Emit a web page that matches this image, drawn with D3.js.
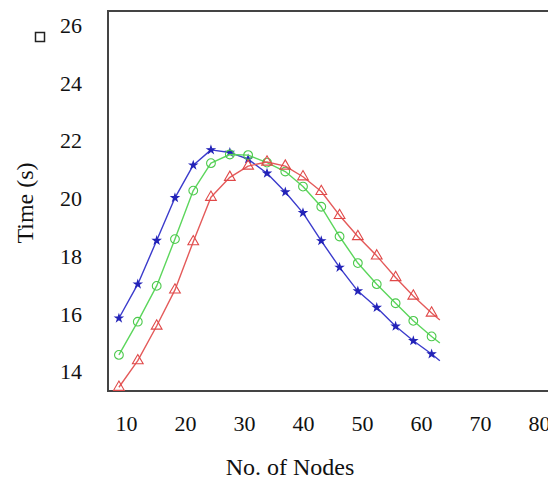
<!DOCTYPE html>
<html>
<head>
<meta charset="utf-8">
<script src="https://cdn.jsdelivr.net/npm/d3@7"></script>
<style>
  body { margin: 0; background: #fff; }
  svg { display: block; }
  .tick text { font-family: "Liberation Serif", "Times New Roman", serif; font-size: 22px; fill: #111; }
  .title { font-family: "Liberation Serif", "Times New Roman", serif; font-size: 24px; fill: #111; }
</style>
</head>
<body>
<div id="chart"></div>
<script>
// number of nodes (x) for each marker, last entry is where the line ends
var nodes = [8.8, 12.0, 15.2, 18.3, 21.4, 24.4, 27.6, 30.7, 33.9, 37.0, 40.0, 43.1, 46.2, 49.3, 52.5, 55.7, 58.7, 61.8, 63.2];

var blueTimes  = [15.86, 17.04, 18.55, 20.03, 21.16, 21.69, 21.60, 21.37, 20.88, 20.23, 19.51, 18.54, 17.62, 16.80, 16.23, 15.58, 15.08, 14.62, 14.39];
var greenTimes = [14.59, 15.74, 16.98, 18.60, 20.28, 21.23, 21.53, 21.51, 21.25, 20.94, 20.42, 19.72, 18.69, 17.77, 17.04, 16.38, 15.77, 15.23, 15.00];
var redTimes   = [13.47, 14.39, 15.59, 16.84, 18.51, 20.05, 20.74, 21.13, 21.27, 21.13, 20.76, 20.25, 19.42, 18.69, 18.02, 17.27, 16.63, 16.04, 15.80];

var xTicks = [10, 20, 30, 40, 50, 60, 70, 80];
var yTicks = [14, 16, 18, 20, 22, 24, 26];

var width = 548, height = 480;
var margin = {top: 11, right: 0, bottom: 89, left: 108};

var svg = d3.select("#chart").append("svg")
  .attr("width", width)
  .attr("height", height);

var x = d3.scaleLinear()
  .domain([6.95, 81.53])
  .range([margin.left, width - margin.right]);

var y = d3.scaleLinear()
  .domain([13.34, 26.5])
  .range([height - margin.bottom, margin.top]);

// axes (labels only, frame drawn below)
var xAxis = svg.append("g")
  .attr("transform", "translate(0," + (height - margin.bottom) + ")")
  .call(d3.axisBottom(x).tickValues(xTicks).tickSize(0).tickPadding(24));
xAxis.select(".domain").remove();

var yAxis = svg.append("g")
  .attr("transform", "translate(" + margin.left + ",0)")
  .call(d3.axisLeft(y).tickValues(yTicks).tickSize(0).tickPadding(26));
yAxis.select(".domain").remove();

// frame: left, top, bottom
svg.append("path")
  .attr("d", "M" + width + "," + y.range()[1] + "H" + x.range()[0] + "V" + y.range()[0] + "H" + width)
  .attr("fill", "none")
  .attr("stroke", "#444")
  .attr("stroke-width", 2);

var series = [
  {name: "blue", values: blueTimes, line: "#3b3bcc", mark: "#2323b8", symbol: d3.symbolStar, size: 16, filled: true},
  {name: "green", values: greenTimes, line: "#5cd65c", mark: "#4cc94c", symbol: d3.symbolCircle, size: 60, filled: false},
  {name: "red", values: redTimes, line: "#e45a5a", mark: "#e04848", symbol: d3.symbolTriangle, size: 50, filled: false}
];

var line = d3.line()
  .x(function(d){ return x(d[0]); })
  .y(function(d){ return y(d[1]); });

series.forEach(function(s) {
  var pts = nodes.map(function(n, i){ return [n, s.values[i]]; });

  svg.append("path")
    .datum(pts)
    .attr("fill", "none")
    .attr("stroke", s.line)
    .attr("stroke-width", 1.4)
    .attr("stroke-linejoin", "round")
    .attr("d", line);

  svg.append("g").selectAll("path")
    .data(pts.slice(0, pts.length - 1)).enter()
    .append("path")
    .attr("transform", function(d){ return "translate(" + x(d[0]) + "," + y(d[1]) + ")"; })
    .attr("d", d3.symbol().type(s.symbol).size(s.size))
    .attr("fill", s.filled ? s.mark : "none")
    .attr("stroke", s.mark)
    .attr("stroke-width", 1.1);
});

// axis titles
svg.append("text")
  .attr("class", "title")
  .attr("x", 290)
  .attr("y", 475)
  .attr("text-anchor", "middle")
  .text("No. of Nodes");

svg.append("text")
  .attr("class", "title")
  .attr("transform", "translate(25,203) rotate(-90)")
  .attr("text-anchor", "middle")
  .attr("dy", "0.35em")
  .text("Time (s)");

// little legend box remnant at top left
svg.append("rect")
  .attr("x", 35.5).attr("y", 32.5)
  .attr("width", 9).attr("height", 9)
  .attr("fill", "none")
  .attr("stroke", "#222")
  .attr("stroke-width", 1.5);
</script>
</body>
</html>
